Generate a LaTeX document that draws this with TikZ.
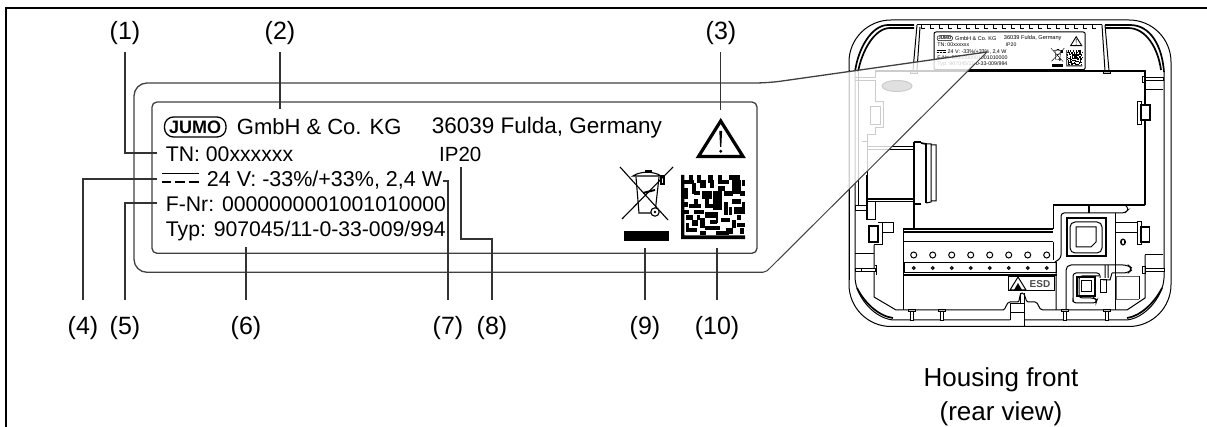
\documentclass[tikz,border=0pt]{standalone}
\usepackage{fontspec}
\setmainfont{Liberation Sans}
\usetikzlibrary{calc}
\tikzset{
txt/.style={anchor=base west,inner sep=0pt,font=\fontsize{21.2}{26}\selectfont},
tri/.style={line width=3.2pt,line join=miter},
pill/.style={rounded corners=9pt,line width=1.3pt},
binln/.style={line width=1.1pt},
plate/.pic={
\node[txt,font=\fontsize{22}{26}\selectfont] (gmbh) at (236.7,135) {GmbH \& Co. KG};
\node[txt] (tn) at (165.7,161.7) {TN: 00xxxxxx};
\node[txt,font=\fontsize{21.5}{26}\selectfont] (volt) at (206.7,186.7) {24 V: -33\%/+33\%, 2,4 W};
\node[txt] (fnr) at (165.7,211.7) {F-Nr: 0000000001001010000};
\node[txt] (typ) at (165.7,236.2) {Typ: 907045/11-0-33-009/994};
\node[txt,font=\fontsize{22.5}{26}\selectfont] (city) at (431.7,133.5) {36039 Fulda, Germany};
\node[txt,font=\fontsize{20.5}{26}\selectfont] (ip) at (439,161.7) {IP20};
\draw[pill] (164.5,117) rectangle (226,137);
\node[inner sep=0pt,font=\fontsize{18}{20}\bfseries\selectfont] (logo) at (195.2,127) {JUMO};
\draw[binln] (162,173.5) -- (199,173.5);
\draw[binln] (162,182) -- (171,182) (175,182) -- (185,182) (189,182) -- (199,182);
\draw[tri] (720.7,121) -- (743,156.5) -- (698.5,156.5) -- cycle;
\fill (719.3,131) -- (722.1,131) -- (721.3,147) -- (720.1,147) -- cycle;
\fill (720.7,151.3) circle (1.6);
\draw[binln] (620,167) -- (668,220) (673,167) -- (622,219);
\draw[binln] (636,177) -- (639,213) -- (655,213) -- (659,177);
\draw[binln] (633,176) .. controls (640,171) and (654,171) .. (661,176) -- cycle;
\fill (645,170.5) rectangle (652,173.5);
\fill[white] (655,212) circle (4.5);
\draw[binln] (655,212) circle (4.2);
\fill (655,212) circle (1.3);
\fill (643,192) -- (655,189) -- (655,191) -- (643,194) -- cycle;
\draw[binln] (661,176) rectangle (664,184);
\fill (624,231) rectangle (669,241.5);
\begin{scope}[shift={(681,175)},x=2.67pt,y=-2.67pt]
\fill (0,0) rectangle (1.3,24) (0,22.6) rectangle (24,24);
\foreach \cx/\cy/\cw/\ch in {3/0/1.5/2,6/0/1.5/3,10/0/2/3,14/0/1.5/2,18/0/4/2,
19/2/3.5/5,1/2/4/1.5,4/3/1.5/4,7/2/2.5/3,11/2/1.5/3,14/2/4/1.5,14/4/2.5/2,
8/6/3.5/3,12/6/3.5/7,16/6/3.5/2,22/6/2/2,1/5/1.5/4,5/9/1.5/2,3/11/4.5/1.5,
5/13/3.5/1.5,9/11/3.5/1.5,16/10/1.5/5,19/9/3.5/2,20/12/4/2.5,2/15/2.5/2,
9/14/4.5/2,4/17/2.5/2,7/16/2/4,9/19/5.5/1.5,15/16/3.5/1.5,17/20/2.5/2,
21/18/3/1.5,2/20/4/1.5,7/21/2.5/1.5,13/21/5/1.5,22/20/1.5/2,2/18/1/2.5,11/17/2.5/1.5,
23/2/1/2,23/10/1/2,21/15/1.5/2,1/10/1.5/2,9/9/1.5/2,18/12/1/3,5/6/2/1.5,
13/14/1/4,19/17/1.5/3,1/13/2/1.5,6/15/1/2}
\fill (\cx,\cy) rectangle +(\cw,\ch);
\end{scope}
}}
\begin{document}
\begin{tikzpicture}[x=1pt,y=-1pt,font=\fontsize{22.5}{27}\selectfont,
lead/.style={draw=black!80,line width=1.1pt},
frameln/.style={draw=black!75,line width=1.3pt},
toplab/.style={anchor=base,inner sep=0pt,outer sep=6.7pt,font=\fontsize{25}{27}\selectfont},
botlab/.style={anchor=base,inner sep=0pt,outer sep=17pt,font=\fontsize{25}{27}\selectfont},
caplab/.style={anchor=base,inner sep=0pt,font=\fontsize{26}{28}\selectfont},
hs/.style={line width=1pt},
hk/.style={line width=1.7pt},
pin/.style={line width=1pt,fill=white}]
\useasboundingbox (0,0) rectangle (1207,427);
\draw[line width=1.2pt] (6,427) -- (6,8) -- (1207,8);

\draw[hs,rounded corners=42pt] (849,20) rectangle (1171,326.5);
\draw[hk] (914,25) -- (888,25) .. controls (872,25) and (858,48) .. (855,72);
\draw[hk] (914,28) -- (890,28) .. controls (875,28) and (862,50) .. (858,72);
\draw[hk] (1105,25) -- (1130,25) .. controls (1150,25) and (1162,45) .. (1164,72);
\draw[hk] (1105,28) -- (1128,28) .. controls (1146,28) and (1158,48) .. (1161,70);
\draw[hs] (855,72) -- (855,278) .. controls (856,298) and (876,320) .. (895,320) -- (1010,320);
\draw[hs] (1164,72) -- (1164,278) .. controls (1163,298) and (1143,320) .. (1125,320) -- (1024,320);
\draw[hk] (857,288) .. controls (864,302) and (878,316) .. (893,318);
\draw[hk] (1162,288) .. controls (1155,302) and (1141,316) .. (1127,318);
\draw[hs] (874,245) -- (874,297) -- (896,310) -- (1003,310) .. controls (1006,310) and (1006,302) .. (1010,302) -- (1018,302) .. controls (1020,302) and (1019,293) .. (1022,293) .. controls (1026,293) and (1025,302) .. (1028,302) -- (1035,302) .. controls (1039,302) and (1038,310) .. (1043,310) -- (1127,310) -- (1145,298) -- (1145,255);
\draw[hs] (1010,320) -- (1010,304) -- (1024,304) -- (1024,326);
\draw[hs] (1010,313) -- (1024,313) (1020,293) -- (1020,304) (1024,293) -- (1024,304);

\draw[hk] (917,24.5) -- (1102,24.5);
\foreach \tx in {921,930,...,1098} \draw[hs] (\tx,25) -- (\tx,29) -- +(4,0);
\draw[hs] (917,25) -- (913,70) (920,27) -- (917,70);
\draw[hs] (1102,25) -- (1105,71) (1105,25) -- (1109,71);
\draw[hs,fill=black!25] (1103,71) rectangle (1110,74);
\draw[hs,fill=black!25] (910,71) rectangle (917,74);
\draw[hs,rounded corners=2pt] (934,32) rectangle (1085.2,69.7);
\pic[scale=.25,transform shape,tri/.style={line width=.9pt},pill/.style={rounded corners=2.2pt,line width=.5pt},binln/.style={line width=.4pt}] (mini) at (896,6.5) {plate};

\draw[hk] (875,71) -- (1145,71) -- (1145,205);
\draw[hs] (875,71) -- (875,78) -- (855,78) (855,81) -- (875,81) -- (875,102) -- (883,102) -- (883,128) -- (875,128) -- (875,135) -- (867,135) -- (867,199);
\draw[hs] (870,107) rectangle (880,125);
\draw[hs] (862,142) -- (867,142) (867,147) -- (914,147) (867,149.5) -- (914,149.5);
\draw[hs,fill=black!60] (897,86) ellipse (15 and 5.5);
\draw[hs] (849,70) -- (849,280) (858,72) -- (858,205);
\draw[hk] (867,175) -- (867,220) (867,199) -- (914,199);
\draw[hs] (867,201.5) -- (914,201.5) (875,202) -- (875,220) -- (867,220);
\draw[hk] (914,142) -- (914,229);
\draw[line width=2pt] (914,142) -- (921,142) (914,204) -- (921,204);
\draw[hk] (921,143) -- (926,144) -- (926,203);
\draw[hs] (926,144) -- (931,144) -- (931,202) -- (926,203) (931,145) -- (936,145) -- (936,201) -- (931,201);
\draw[hs] (855,206) rectangle (866,211);

\draw[hk] (869,226) rectangle (878,242);
\draw[hs] (878,223) -- (882,223) -- (882,245) -- (874,245) (882,233) -- (893,233) -- (893,223) -- (882,223);
\draw[hs] (855,254) -- (874,254);
\draw[hs,pin] (855,269) rectangle (875,272);
\draw[hs] (861,269) -- (861,272) (875,266) -- (876.5,266) -- (876.5,275);

\draw[hk] (903,229) -- (1053,229) (903,232) -- (1053,232);
\draw[hs] (903,242) -- (1053,242) (903,229) -- (903,310);
\foreach \hx in {0,...,7} {
\draw[hs] (913.7+19*\hx,255) circle (3);
\draw[line width=1.1pt] (913.7+19*\hx,268) circle (1.4);
}
\draw[hs] (904,263) rectangle (1056,273);
\draw[hk] (903,275) -- (1057,275);
\draw[hs] (1008,277) rectangle (1054,291);
\draw[hs] (1018,277) -- (1010,290) -- (1026,290) -- cycle;
\fill (1014,290) -- (1018,283) -- (1022,290) -- cycle;
\node[inner sep=0pt,text=black!70,font=\fontsize{10}{11}\bfseries\selectfont] (esd) at (1040,284) {ESD};

\foreach \px in {912,942,1065,1107} {
\draw[pin] (\px-1.7,312) rectangle (\px+1.7,321);
\draw[hs,fill=black!25] (\px-3.5,309.5) rectangle (\px+3.5,312);
}

\draw[hs,fill=white] (1137,102) rectangle (1141,125);
\draw[hk,fill=white] (1141,105) rectangle (1150,120);
\draw[hs,pin] (1145,78) rectangle (1163,81);
\draw[hs] (1142,77) rectangle (1145,83) (1145,90) -- (1163,90);
\draw[hs,fill=white] (1137,222) rectangle (1141,245);
\draw[hk,fill=white] (1141,227) rectangle (1149.5,242);
\draw[hs,pin] (1145,269) rectangle (1164,272);
\draw[hs] (1142,267) rectangle (1145,274) (1145,255) -- (1163,255);

\draw[hk] (1053,205) -- (1145,205);
\draw[hs] (1053,205) -- (1053,229) (1053,242) -- (1053,260);
\draw[hs,rounded corners=3pt] (1055,262) -- (1061,258) -- (1061,213) -- (1125,213) -- (1129,209) -- (1125,205);
\draw[hk] (1089,205) -- (1089,213);
\draw[hs] (1115,213) -- (1115,310);
\draw[hk] (1067,218) rectangle (1106,256);
\draw[hs,rounded corners=5pt] (1070,222) rectangle (1102,253);
\draw[hs] (1076,227) -- (1096,227) -- (1096,242) -- (1091,247) -- (1076,247) -- cycle;
\draw[hs] (1115,223) -- (1137,223) (1115,233) -- (1137,233);
\fill (1123,242) ellipse (3 and 3.6);
\fill[white] (1123,242) ellipse (1 and 2.2);
\draw[hs,rounded corners=5pt] (1056,310) -- (1056,262) (1066,310) -- (1066,265) -- (1128,265) -- (1133,269) -- (1128,273) -- (1112,273);
\draw[hs,rounded corners=3pt] (1073,302) -- (1073,273) -- (1100,273) -- (1100,278);
\draw[hs,rounded corners=3pt] (1073,302) -- (1073,303) -- (1096,303) -- (1097,300) -- (1094,298) -- (1079,298) -- (1079,276) -- (1099,276);
\draw[hs] (1105,265) -- (1105,278) (1108,265) -- (1108,278) (1112,273) -- (1110,280) -- (1103,280);
\draw[hs] (1100,280) rectangle (1106,293);
\draw[hk] (1077,277) rectangle (1095,296);
\draw[hs] (1081,281) rectangle (1091,292);
\draw[black!60,line width=.8pt] (1139,276) -- (1116,276) -- (1116,299) -- (1139,299);
\draw[hs] (1139,276) -- (1139,299);

\coordinate (tip) at (987,52);
\coordinate (uplft) at (768,83);
\coordinate (lwlft) at (770,268);
\fill[white,opacity=.8] (tip) -- (uplft) -- (lwlft) -- cycle;
\draw[frameln,rounded corners=13pt] (tip) -- (uplft) -- (134,83) -- (134,272.3) -- (763,272.3);
\draw[frameln,line width=1pt] (763,272.3) .. controls (766,272.3) and (768,270) .. (lwlft) -- (tip);
\draw[frameln,rounded corners=5pt] (152,102) rectangle (757,253.3);
\pic (big) at (0,0) {plate};

\node[toplab] (lab1) at (125,40) {(1)};
\node[toplab] (lab2) at (280,40) {(2)};
\node[toplab] (lab3) at (721,40) {(3)};
\node[botlab] (lab4) at (83,335) {(4)};
\node[botlab] (lab5) at (125,335) {(5)};
\node[botlab] (lab6) at (246,335) {(6)};
\node[botlab] (lab7) at (448,335) {(7)};
\node[botlab] (lab8) at (492,335) {(8)};
\node[botlab] (lab9) at (645,335) {(9)};
\node[botlab] (lab10) at (717,335) {(10)};
\node[caplab] (cap1) at (1001,386) {Housing front};
\node[caplab] (cap2) at (1001,420) {(rear view)};

\coordinate (e1) at (157,153);
\coordinate (e2) at (280,109);
\coordinate (e3) at (720.7,110);
\coordinate (e4) at (157,179);
\coordinate (e5) at (157,203);
\coordinate (e6) at (246,247);
\coordinate (e7) at (443,181);
\coordinate (e8) at (461,167);
\coordinate (b8) at (461,239);
\coordinate (e9) at (645,248);
\coordinate (e10) at (717,248);
\draw[lead] (lab1.south) |- (e1);
\draw[lead] (lab2.south) -- (e2);
\draw[lead] (e3 |- lab3.south) -- (e3);
\draw[lead] (lab4.north) |- (e4);
\draw[lead] (lab5.north) |- (e5);
\draw[lead] (lab6.north) -- (e6);
\draw[lead] (lab7.north) |- (e7);
\draw[lead] (lab8.north) |- (b8) -- (e8);
\draw[lead] (lab9.north) -- (e9);
\draw[lead] (lab10.north) -- (e10);
\end{tikzpicture}
\end{document}
